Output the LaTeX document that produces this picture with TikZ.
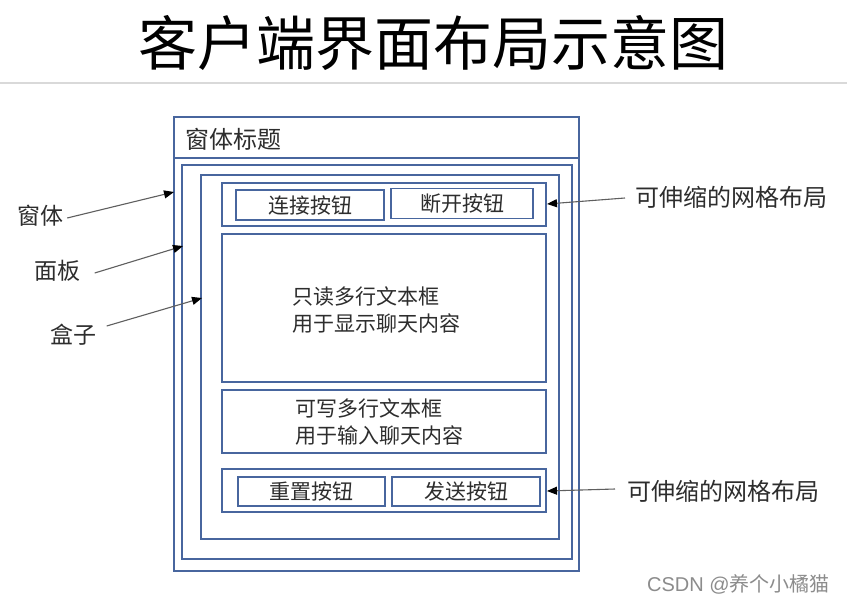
\documentclass[tikz,border=0pt]{standalone}
\usepackage{fontspec}
\setmainfont{Noto Sans CJK SC}
\newfontfamily\wmfont{Liberation Sans}
\usetikzlibrary{arrows.meta}
\definecolor{boxblue}{RGB}{72,102,158}
\definecolor{arrowgray}{RGB}{95,95,95}
\definecolor{txt}{RGB}{45,45,45}
\tikzset{
  frame/.style={draw=boxblue, line width=1.4pt, fill=white},
  btn/.style={draw=boxblue, line width=1.4pt, fill=white, text=txt, font=\fontsize{21}{24}\selectfont, inner sep=0pt},
  lbl/.style={font=\fontsize{23}{26}\selectfont, inner sep=0pt, text=txt},
  area/.style={font=\fontsize{21}{27}\selectfont, inner sep=0pt, text=txt, align=left, anchor=west},
  pointer/.style={draw=arrowgray, line width=1.1pt, -{Triangle[length=10pt,width=8pt,fill=black,color=black]}},
}
\begin{document}
\begin{tikzpicture}[x=1pt,y=-1pt]
\useasboundingbox (0,0) rectangle (847,606);
\fill[white] (0,0) rectangle (847,606);
% header
\node[inner sep=0pt, font=\fontsize{59}{62}\selectfont] (title) at (433.5,43) {客户端界面布局示意图};
\draw[black!15, line width=1.2pt] (0,83) -- (847,83);
% window
\draw[frame] (174,117) rectangle (579,571);
\draw[boxblue, line width=1.4pt] (174,158) -- (579,158);
\node[lbl, anchor=west, font=\fontsize{24}{26}\selectfont] (wtitle) at (185,139) {窗体标题};
% panel
\draw[frame] (182,165) rectangle (572,559);
% box
\draw[frame] (201,175) rectangle (559,539);
% top grid
\draw[frame] (222,183) rectangle (546,226);
\node[btn, minimum width=148pt, minimum height=30pt] (connect) at (310,205) {连接按钮};
\node[btn, minimum width=142pt, minimum height=30pt] (disconnect) at (462,203.5) {断开按钮};
% read-only area
\draw[frame] (222,234) rectangle (546,382);
\node[area] (readonly) at (292,310) {只读多行文本框\\用于显示聊天内容};
% writable area
\draw[frame] (222,390) rectangle (546,453);
\node[area] (writable) at (295,421.5) {可写多行文本框\\用于输入聊天内容};
% bottom grid
\draw[frame] (222,469) rectangle (546,512);
\node[btn, minimum width=147pt, minimum height=29pt] (reset) at (311.5,491.5) {重置按钮};
\node[btn, minimum width=148pt, minimum height=29pt] (send) at (466,491.5) {发送按钮};
% left labels
\node[lbl] (lwin) at (40,216) {窗体};
\node[lbl] (lpanel) at (57.5,271) {面板};
\node[lbl] (lbox) at (73.5,335) {盒子};
\coordinate (twin) at (174,192);
\coordinate (tpanel) at (183,246);
\coordinate (tbox) at (202,298);
\draw[pointer] (lwin.east) ++(4,2) -- (twin);
\draw[pointer] (lpanel.east) ++(14,2) -- (tpanel);
\draw[pointer] (lbox.east) ++(10,-9) -- (tbox);
% right labels
\node[lbl, anchor=west, font=\fontsize{24}{26}\selectfont] (lgrid1) at (635,197) {可伸缩的网格布局};
\node[lbl, anchor=west, font=\fontsize{24}{26}\selectfont] (lgrid2) at (627,491) {可伸缩的网格布局};
\coordinate (tgrid1) at (547,204);
\coordinate (tgrid2) at (547,491);
\draw[pointer] (lgrid1.west) ++(-10,1) -- (tgrid1);
\draw[pointer] (lgrid2.west) ++(-12,-2) -- (tgrid2);
% watermark
\node[inner sep=0pt, anchor=west, text=black!45, font=\fontsize{20}{22}\selectfont] (wm) at (647,584) {{\wmfont CSDN @}养个小橘猫};
\end{tikzpicture}
\end{document}
